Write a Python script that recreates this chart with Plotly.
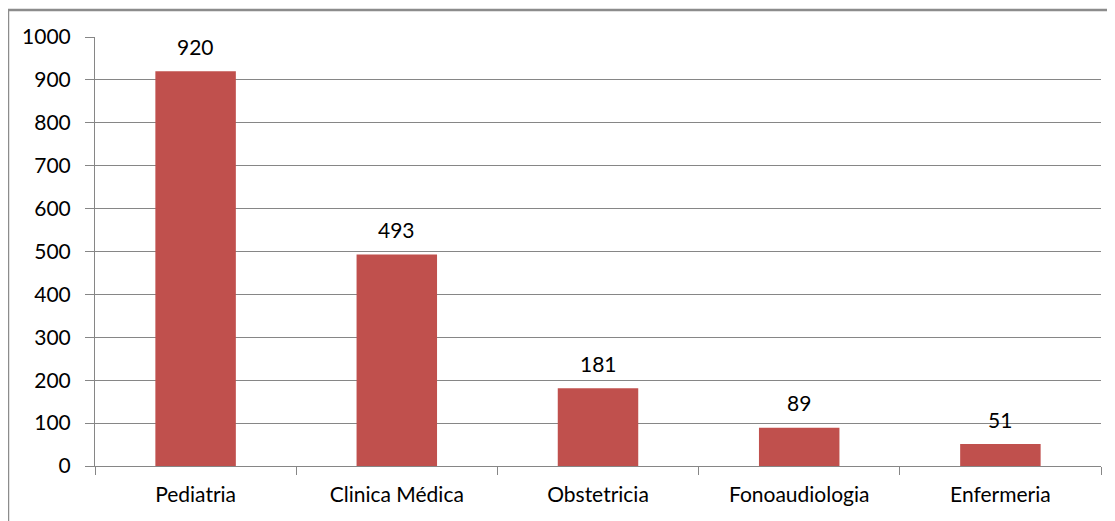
import plotly.graph_objects as go

categories = ["Pediatria", "Clinica Médica", "Obstetricia", "Fonoaudiologia", "Enfermeria"]
values = [920, 493, 181, 89, 51]
y_ticks = [0, 100, 200, 300, 400, 500, 600, 700, 800, 900, 1000]

FONT = "Lato"
FS = 21
fig = go.Figure()
fig.add_trace(go.Bar(x=categories, y=values, marker=dict(color="#C0504D", line=dict(width=0)),
                     hoverinfo="x+y"))

for c, v in zip(categories, values):
    fig.add_annotation(x=c, y=v, text=str(v), showarrow=False, yshift=25,
                       font=dict(family=FONT, size=FS, color="#000000"))

fig.add_shape(type="rect", xref="paper", yref="paper", x0=-0.0865, x1=1.5, y0=-0.6, y1=1.063,
              line=dict(color="#8c8c8c", width=2.5), fillcolor="rgba(0,0,0,0)", layer="above")

fig.update_layout(
    width=1115, height=521,
    margin=dict(l=87, r=22, t=29, b=63),
    paper_bgcolor="white", plot_bgcolor="white",
    bargap=0.6,
    showlegend=False,
    font=dict(family=FONT, size=FS, color="#000000"),
)
fig.update_xaxes(
    type="category", showline=True, linecolor="#868686", linewidth=1,
    ticks="outside", tickson="boundaries", ticklen=8, tickcolor="#868686",
    ticklabelstandoff=10,
    showgrid=False, tickfont=dict(family=FONT, size=FS, color="#000000"),
)
fig.update_yaxes(
    range=[0, 1000], tickvals=y_ticks, showline=True, linecolor="#868686", linewidth=1,
    ticks="outside", ticklen=9, tickcolor="#868686",
    ticklabelstandoff=10,
    showgrid=True, gridcolor="#868686", gridwidth=1, zeroline=False,
    tickfont=dict(family=FONT, size=FS, color="#000000"),
)

fig.write_html("out.html")
